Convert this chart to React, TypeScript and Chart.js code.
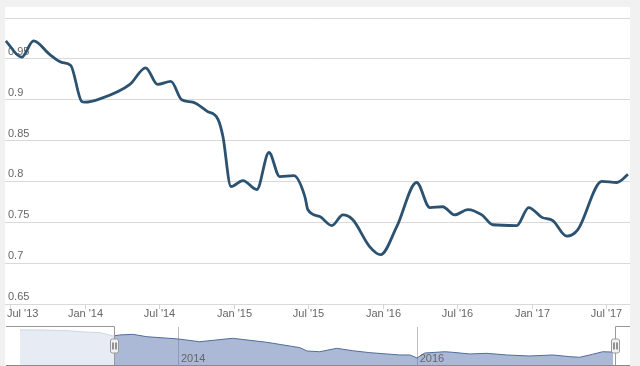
import React, { useEffect, useRef } from 'react';
import { Chart, registerables } from 'chart.js';

Chart.register(...registerables);

// ---- Main series ----
const mainDates = [
  '2013-06-20', '2013-07-29', '2013-08-28', '2013-10-06', '2013-11-05', '2013-11-27',
  '2013-12-24', '2014-01-01', '2014-02-07', '2014-04-20', '2014-05-29', '2014-06-27',
  '2014-07-30', '2014-08-26', '2014-09-22', '2014-10-27', '2014-11-23', '2014-12-05',
  '2014-12-25', '2015-01-24', '2015-02-25', '2015-03-27', '2015-04-22', '2015-05-27',
  '2015-06-23', '2015-06-30', '2015-07-30', '2015-08-29', '2015-09-25', '2015-10-19',
  '2015-11-30', '2015-12-27', '2016-02-05', '2016-03-24', '2016-04-25', '2016-05-27',
  '2016-06-25', '2016-07-28', '2016-09-01', '2016-09-27', '2016-11-25', '2016-12-25',
  '2017-01-27', '2017-02-21', '2017-03-27', '2017-04-23', '2017-06-21', '2017-07-28',
  '2017-08-25',
];
const mainValues = [
  0.972, 0.952, 0.972, 0.9555, 0.9457, 0.942,
  0.898, 0.897, 0.901, 0.9187, 0.939, 0.9187,
  0.9224, 0.900, 0.897, 0.886, 0.876, 0.855,
  0.7938, 0.801, 0.790, 0.8354, 0.806, 0.807,
  0.7815, 0.7656, 0.757, 0.746, 0.759, 0.7533,
  0.720, 0.7104, 0.7447, 0.7987, 0.768, 0.769,
  0.759, 0.7656, 0.759, 0.747, 0.746, 0.768,
  0.756, 0.752, 0.733, 0.741, 0.800, 0.7987,
  0.8085,
];

// ---- Navigator series ----
const navDates = [
  '2012-09-04', '2012-11-04', '2013-01-27', '2013-03-21', '2013-05-06', '2013-06-15',
  '2013-07-05', '2013-08-15', '2013-09-27', '2014-01-01', '2014-03-07', '2014-06-16',
  '2014-09-29', '2015-01-09', '2015-01-31', '2015-03-09', '2015-04-30', '2015-06-18',
  '2015-08-10', '2015-10-01', '2015-11-10', '2015-12-11', '2016-01-02', '2016-01-26',
  '2016-03-27', '2016-04-20', '2016-06-11', '2016-08-03', '2016-10-03', '2016-12-12',
  '2017-02-20', '2017-04-13', '2017-05-13', '2017-06-22', '2017-07-23', '2017-08-25',
];
const navValues = [
  1.055, 1.055, 1.045, 1.027, 1.018, 0.972,
  0.986, 0.995, 0.962, 0.931, 0.893, 0.940,
  0.885, 0.811, 0.765, 0.755, 0.802, 0.769,
  0.742, 0.724, 0.710, 0.710, 0.668, 0.737,
  0.755, 0.747, 0.724, 0.733, 0.710, 0.696,
  0.710, 0.687, 0.678, 0.720, 0.755, 0.750,
];

// ---- Axes ----
const xTickDates = [
  '2013-07-01', '2014-01-01', '2014-07-01', '2015-01-01', '2015-07-01',
  '2016-01-01', '2016-07-01', '2017-01-01', '2017-07-01',
];
const xTickLabels = ["Jul '13", "Jan '14", "Jul '14", "Jan '15", "Jul '15", "Jan '16", "Jul '16", "Jan '17", "Jul '17"];
const navTickDates = ['2014-01-01', '2016-01-01'];
const navTickLabels = ['2014', '2016'];
const yMin = 0.65;
const yMax = 1.0;
const yStep = 0.05;

const mainRange = ['2013-06-18', '2017-08-30'];
const navRange = ['2012-07-23', '2017-10-15'];
const navYRange = [0.558, 1.096];

const FONT = '11px "Liberation Sans", Arial, Helvetica, sans-serif';
const TEXT = '#666666';

function toMonths(d: string): number {
  const [y, m, day] = d.split('-').map(Number);
  const dim = new Date(Date.UTC(y, m, 0)).getUTCDate();
  return (y - 2014) * 12 + (m - 1) + (day - 1) / dim;
}

export default function App() {
  const mainRef = useRef<HTMLCanvasElement | null>(null);
  const navRef = useRef<HTMLCanvasElement | null>(null);

  useEffect(() => {
    const mainAxisPlugin = {
      id: 'mainAxis',
      afterDraw(chart: any) {
        const ctx = chart.ctx;
        const xs = chart.scales.x;
        const bottom = chart.chartArea.bottom;
        ctx.save();
        ctx.font = FONT;
        ctx.fillStyle = TEXT;
        ctx.textBaseline = 'middle';
        ctx.textAlign = 'left';
        ctx.strokeStyle = '#cfd6e0';
        ctx.lineWidth = 1;
        xTickDates.forEach((d, i) => {
          const px = Math.round(xs.getPixelForValue(toMonths(d))) + 0.5;
          ctx.beginPath();
          ctx.moveTo(px, bottom);
          ctx.lineTo(px, bottom + 5);
          ctx.stroke();
          const w = ctx.measureText(xTickLabels[i]).width;
          let left = px - w / 2;
          if (left < 7) left = 7;
          ctx.fillText(xTickLabels[i], left, bottom + 10);
        });
        ctx.restore();
      },
    };

    const main = new Chart(mainRef.current as HTMLCanvasElement, {
      type: 'line',
      data: {
        datasets: [
          {
            data: mainDates.map((d, i) => ({ x: toMonths(d), y: mainValues[i] })),
            borderColor: '#2c5271',
            borderWidth: 2.8,
            pointRadius: 0,
            cubicInterpolationMode: 'monotone',
            fill: false,
          },
        ],
      },
      options: {
        animation: false,
        responsive: false,
        layout: { padding: { left: 5, right: 10, top: 18, bottom: 18 } },
        plugins: { legend: { display: false }, tooltip: { enabled: false } },
        scales: {
          x: {
            type: 'linear',
            display: false,
            min: toMonths(mainRange[0]),
            max: toMonths(mainRange[1]),
            ticks: { display: false },
          },
          y: {
            type: 'linear',
            min: yMin,
            max: yMax,
            afterFit: (s: any) => {
              s.width = 0;
            },
            border: { display: false },
            grid: { color: '#d9d9d9', drawTicks: false, lineWidth: 1 },
            ticks: {
              stepSize: yStep,
              mirror: true,
              padding: 3,
              labelOffset: -7,
              color: TEXT,
              font: { family: '"Liberation Sans", Arial, Helvetica, sans-serif', size: 11 },
              callback: (v: any) => (Math.abs(Number(v) - yMax) < 1e-6 ? '' : String(Math.round(Number(v) * 100) / 100)),
            },
          },
        },
      },
      plugins: [mainAxisPlugin],
    } as any);

    const navPlugin = {
      id: 'navDecor',
      beforeDatasetsDraw(chart: any) {
        const ctx = chart.ctx;
        const xs = chart.scales.x;
        const { top, bottom } = chart.chartArea;
        ctx.save();
        ctx.strokeStyle = '#bdbdbd';
        ctx.lineWidth = 1;
        navTickDates.forEach((d) => {
          const px = Math.round(xs.getPixelForValue(toMonths(d))) + 0.5;
          ctx.beginPath();
          ctx.moveTo(px, top);
          ctx.lineTo(px, bottom);
          ctx.stroke();
        });
        ctx.restore();
      },
      afterDatasetsDraw(chart: any) {
        const ctx = chart.ctx;
        const xs = chart.scales.x;
        const { left, right, top, bottom } = chart.chartArea;
        const hl = Math.round(xs.getPixelForValue(toMonths(mainRange[0]))) + 0.5;
        const hr = Math.round(xs.getPixelForValue(toMonths(mainRange[1]))) + 0.5;
        ctx.save();
        // year labels
        ctx.font = FONT;
        ctx.fillStyle = TEXT;
        ctx.textBaseline = 'alphabetic';
        ctx.textAlign = 'left';
        navTickDates.forEach((d, i) => {
          const px = xs.getPixelForValue(toMonths(d));
          ctx.fillText(navTickLabels[i], px + 3, bottom - 4);
        });
        // masks outside the selected range
        ctx.fillStyle = 'rgba(255,255,255,0.72)';
        ctx.fillRect(left, top, hl - left, bottom - top);
        ctx.fillRect(hr, top, right - hr, bottom - top);
        // outline
        ctx.strokeStyle = '#999999';
        ctx.lineWidth = 1;
        ctx.beginPath();
        ctx.moveTo(left, top - 0.5);
        ctx.lineTo(hl, top - 0.5);
        ctx.lineTo(hl, bottom);
        ctx.moveTo(hr, bottom);
        ctx.lineTo(hr, top - 0.5);
        ctx.lineTo(right, top - 0.5);
        ctx.stroke();
        ctx.strokeStyle = '#8a8a8a';
        ctx.beginPath();
        ctx.moveTo(left, bottom - 0.5);
        ctx.lineTo(right, bottom - 0.5);
        ctx.stroke();
        // handles
        const cy = top + 19;
        [hl, hr].forEach((hx) => {
          const x0 = hx - 4;
          const y0 = cy - 7;
          const w = 8;
          const h = 14;
          const r = 2;
          ctx.beginPath();
          ctx.moveTo(x0 + r, y0);
          ctx.lineTo(x0 + w - r, y0);
          ctx.quadraticCurveTo(x0 + w, y0, x0 + w, y0 + r);
          ctx.lineTo(x0 + w, y0 + h - r);
          ctx.quadraticCurveTo(x0 + w, y0 + h, x0 + w - r, y0 + h);
          ctx.lineTo(x0 + r, y0 + h);
          ctx.quadraticCurveTo(x0, y0 + h, x0, y0 + h - r);
          ctx.lineTo(x0, y0 + r);
          ctx.quadraticCurveTo(x0, y0, x0 + r, y0);
          ctx.closePath();
          ctx.fillStyle = '#f2f2f2';
          ctx.fill();
          ctx.strokeStyle = '#999999';
          ctx.stroke();
          ctx.strokeStyle = '#333333';
          ctx.beginPath();
          ctx.moveTo(hx - 1.5, cy - 3.5);
          ctx.lineTo(hx - 1.5, cy + 3.5);
          ctx.moveTo(hx + 1.5, cy - 3.5);
          ctx.lineTo(hx + 1.5, cy + 3.5);
          ctx.stroke();
        });
        ctx.restore();
      },
    };

    const nav = new Chart(navRef.current as HTMLCanvasElement, {
      type: 'line',
      data: {
        datasets: [
          {
            data: navDates.map((d, i) => ({ x: toMonths(d), y: navValues[i] })),
            borderColor: '#4f6d99',
            borderWidth: 1,
            backgroundColor: 'rgba(102,128,180,0.55)',
            pointRadius: 0,
            tension: 0,
            fill: 'start',
          },
        ],
      },
      options: {
        animation: false,
        responsive: false,
        layout: { padding: { left: 6, right: 10, top: 7, bottom: 0 } },
        plugins: { legend: { display: false }, tooltip: { enabled: false } },
        scales: {
          x: {
            type: 'linear',
            display: false,
            min: toMonths(navRange[0]),
            max: toMonths(navRange[1]),
            ticks: { display: false },
          },
          y: {
            type: 'linear',
            display: false,
            min: navYRange[0],
            max: navYRange[1],
            ticks: { display: false },
          },
        },
      },
      plugins: [navPlugin],
    } as any);

    return () => {
      main.destroy();
      nav.destroy();
    };
  }, []);

  return (
    <div style={{ position: 'fixed', left: 0, top: 0, width: 640, height: 366, background: '#f1f1f1', overflow: 'hidden' }}>
      <div style={{ position: 'absolute', left: 5, top: 7, width: 625, height: 359, background: '#ffffff' }} />
      <canvas ref={mainRef} width={640} height={322} style={{ position: 'absolute', left: 0, top: 0, display: 'block' }} />
      <canvas ref={navRef} width={640} height={46} style={{ position: 'absolute', left: 0, top: 320, display: 'block' }} />
    </div>
  );
}
